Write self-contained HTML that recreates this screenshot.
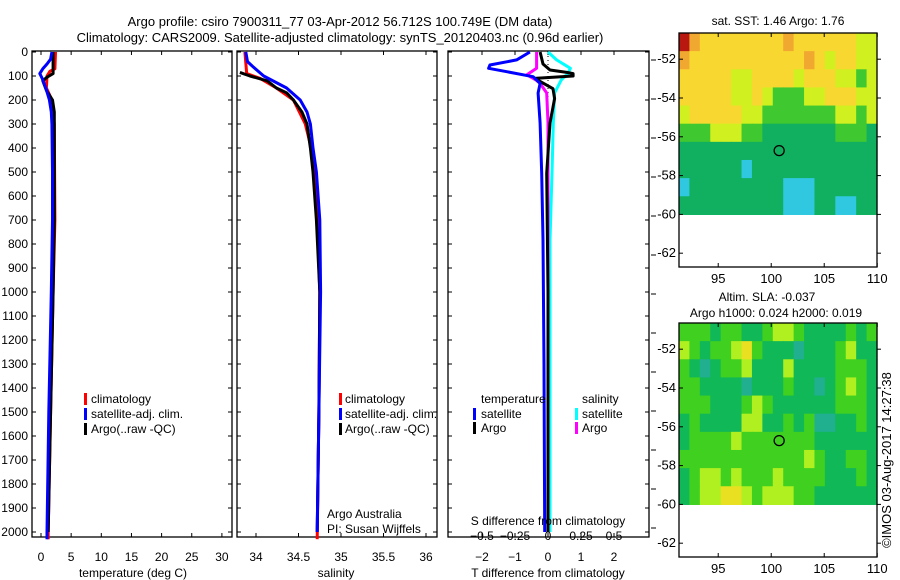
<!DOCTYPE html>
<html><head><meta charset="utf-8"><style>
html,body{margin:0;padding:0;background:#fff}
svg{display:block;font-family:"Liberation Sans",sans-serif}
</style></head><body>
<svg id="fig" width="900" height="580" viewBox="0 0 900 580" xmlns="http://www.w3.org/2000/svg">
<text x="340" y="26" font-size="13" text-anchor="middle">Argo profile: csiro 7900311_77 03-Apr-2012 56.712S 100.749E (DM data)</text>
<text x="340" y="42" font-size="13" text-anchor="middle">Climatology: CARS2009. Satellite-adjusted climatology: synTS_20120403.nc (0.96d earlier)</text>
<g id="g"></g>
</svg>
<script>
// ---- data ----
const depthTicks=[0,100,200,300,400,500,600,700,800,900,1000,1100,1200,1300,1400,1500,1600,1700,1800,1900,2000];
const tempTicks=[0,5,10,15,20,25,30];
const salTicks=[34,34.5,35,35.5,36];
const salTickLabels=["34","34.5","35","35.5","36"];
const dTTicks=[-2,-1,0,1,2];
const dTTickLabels=["\u22122","\u22121","0","1","2"];
const dSTicks=[-0.5,-0.25,0,0.25,0.5];
const dSTickLabels=["\u22120.5","\u22120.25","0","0.25","0.5"];
const tempClimD=[0,70,80,100,150,200,300,700,1000,1500,2000,2030];
const tempClim=[2.4,2.3,1.5,1.0,0.9,1.8,2.2,2.3,2.0,1.6,1.2,1.2];
const tempSatD=[0,30,50,70,90,110,150,200,250,300,500,700,1000,1500,2000,2030];
const tempSat=[1.8,1.6,1.0,0.3,-0.2,0.2,0.8,1.4,1.7,1.8,1.9,1.9,1.7,1.3,1.0,1.0];
const tempArgoD=[0,90,105,120,160,200,250,700,1000,1500,2000];
const tempArgo=[2.0,2.0,1.0,0.3,0.9,1.9,2.2,2.2,2.0,1.6,1.2];
const salClimD=[0,90,110,150,200,300,400,600,1000,1500,2030];
const salClim=[33.87,33.89,34.05,34.24,34.44,34.58,34.65,34.71,34.75,34.74,34.72];
const salSatD=[0,40,60,100,150,200,250,300,400,500,700,1000,1500,2000];
const salSat=[33.88,33.9,33.96,34.09,34.36,34.52,34.6,34.64,34.67,34.71,34.75,34.76,34.74,34.72];
const salArgoD=[85,100,120,150,170,200,250,300,400,500,700,1000,1500,2000];
const salArgo=[33.81,33.93,34.13,34.24,34.36,34.44,34.54,34.6,34.64,34.67,34.71,34.75,34.74,34.72];
const dTSatD=[0,33,54,68,82,103,131,171,296,505,783,1300,2000];
const dTSat=[-0.55,-0.95,-1.76,-1.8,-1.25,-0.45,-0.24,-0.3,-0.24,-0.19,-0.15,-0.12,-0.1];
const dTArgoD=[0,50,75,85,90,100,110,153,194,296,505,1000,2000];
const dTArgo=[-0.24,-0.15,0.06,0.57,0.76,0.76,-0.4,0.15,0.2,0.06,-0.04,0,0];
const dSSatD=[0,33,68,90,117,171,296,505,783,2000];
const dSSat=[0,0.065,0.17,0.15,0.1,0.05,0.04,0.03,0.015,0.015];
const dSArgoD=[0,68,95,117,131,171,296,1000,2000];
const dSArgo=[-0.086,-0.086,-0.16,-0.09,-0.06,-0.01,0,0,0];
const latTicks=[-52,-54,-56,-58,-60,-62];
const lonTicks=[95,100,105,110];
const sstGrid=[
[6,5,4,4,4,4,4,4,4,4,5,4,4,4,4,4,4,3,3],
[5,4,4,4,4,4,4,4,4,4,4,4,5,4,3,4,4,3,3],
[4,4,4,4,4,3,3,4,4,4,4,3,4,4,4,3,3,2,3],
[4,4,4,4,4,3,3,4,3,2,2,2,3,3,4,4,4,3,3],
[3,4,4,4,4,4,3,3,2,2,2,2,2,2,2,3,3,2,3],
[2,2,2,3,3,3,2,2,1,1,1,1,1,1,1,2,2,2,1],
[1,1,1,1,1,1,1,1,1,1,1,1,1,1,1,1,1,1,1],
[1,1,1,1,1,1,0,1,1,1,1,1,1,1,1,1,1,1,1],
[0,1,1,1,1,1,1,1,1,1,0,0,0,1,1,1,1,1,1],
[1,1,1,1,1,1,1,1,1,1,0,0,0,1,1,0,0,1,1]];
const slaGrid=[
[2,2,2,1,2,2,1,1,2,3,3,2,1,1,1,1,2,1,2],
[3,2,1,2,2,3,4,2,1,1,1,0,1,1,1,2,3,1,1],
[2,1,0,1,2,2,3,1,1,1,3,1,1,1,1,2,2,2,1],
[2,2,1,1,1,1,0,1,1,1,2,1,1,0,1,2,3,2,1],
[2,2,2,1,1,1,2,3,2,1,1,1,1,1,1,2,2,2,1],
[1,2,1,1,1,1,3,3,1,1,2,1,2,0,0,1,1,2,1],
[1,2,2,2,2,3,2,2,2,2,2,2,2,1,1,1,1,1,1],
[2,2,2,2,2,2,2,2,2,2,2,2,3,2,1,1,2,2,1],
[1,2,3,3,2,3,2,2,2,3,2,2,2,2,1,1,1,2,1],
[1,2,3,3,4,4,3,2,3,3,3,2,2,1,1,1,1,1,1]];
const sstColors=['#30c8e0','#10b060','#40c830','#d0f020','#f8d830','#f0a830','#b81810'];
const slaColors=['#20b090','#10b858','#40d020','#b0f020','#e8e020'];
const argoLon=100.749, argoLat=-56.712;

// ---- helpers ----
const NS='http://www.w3.org/2000/svg';
const root=document.getElementById('g');
function mk(tag,attrs,parent){const e=document.createElementNS(NS,tag);for(const k in attrs)e.setAttribute(k,attrs[k]);(parent||root).appendChild(e);return e;}
const yD=d=>52+d*0.24;
const xT=t=>41+t*6.03;
const xS=s=>256+(s-34)*85;
const xDT=v=>548+v*33;
const xDS=v=>548+v*132;
const FT=51, FB=537;

function frame(x0,x1,name){
  const r=mk('rect',{x:x0,y:FT,width:x1-x0,height:FB-FT,fill:'none',stroke:'#000','stroke-width':1.3});
  
  
}
function line(xs,ds,fx,color,name,w){
  const pts=xs.map((v,i)=>fx(v).toFixed(1)+','+yD(ds[i]).toFixed(1)).join(' ');
  const p=mk('polyline',{points:pts,fill:'none',stroke:color,'stroke-width':w||3,'stroke-linejoin':'round'});
  
  
}
function txt(x,y,s,anchor,name,size){
  const t=mk('text',{x:x,y:y,'font-size':size||12,'text-anchor':anchor||'start'});
  t.textContent=s;
  
  
  return t;
}
function xticks(ticks,labels,fx,y0,name){
  ticks.forEach((v,i)=>{
    const x=fx(v);
    mk('line',{x1:x,x2:x,y1:FT,y2:FT+4,stroke:'#000'});
    mk('line',{x1:x,x2:x,y1:FB,y2:FB-4,stroke:'#000'});
    txt(x,y0,labels[i],'middle',name);
  });
}
function legendMark(x,y,color,name){
  const r=mk('rect',{x:x,y:y-10,width:3,height:12,fill:color});
  
  
}

// ---- panels ----
frame(32,232,'temperature-panel-frame');
frame(237,437,'salinity-panel-frame');
frame(448,649,'difference-panel-frame');
depthTicks.forEach(d=>{
  const y=yD(d);
  txt(28,y+4,String(d),'end','depth-tick-label');
  [[32,36],[228,232],[237,241],[433,437],[448,452],[645,649]].forEach(a=>mk('line',{x1:a[0],x2:a[1],y1:y,y2:y,stroke:'#000'}));
});
for(let y=60;y<=560;y+=39){mk('line',{x1:651,x2:656,y1:y,y2:y,stroke:'#000'});}
xticks(tempTicks,tempTicks.map(String),xT,561,'temperature-tick-label');
xticks(salTicks,salTickLabels,xS,561,'salinity-tick-label');
xticks(dTTicks,dTTickLabels,xDT,561,'t-diff-tick-label');
txt(133,577,'temperature (deg C)','middle','temperature-axis-title');
txt(336,577,'salinity','middle','salinity-axis-title');
txt(548,577,'T difference from climatology','middle','t-diff-axis-title');

// zero dotted line
const z=mk('line',{x1:548,x2:548,y1:yD(0),y2:yD(2000),stroke:'#000','stroke-dasharray':'1,3'});



line(tempClim,tempClimD,xT,'#ff0000','temp-climatology-line');
line(tempArgo,tempArgoD,xT,'#000000','temp-argo-line');
line(tempSat,tempSatD,xT,'#0000ff','temp-satellite-line');
line(salClim,salClimD,xS,'#ff0000','salinity-climatology-line');
line(salArgo,salArgoD,xS,'#000000','salinity-argo-line');
line(salSat,salSatD,xS,'#0000ff','salinity-satellite-line');
line(dSSat,dSSatD,xDS,'#00ffff','s-diff-satellite-line');
line(dSArgo,dSArgoD,xDS,'#ff00ff','s-diff-argo-line');
line(dTArgo,dTArgoD,xDT,'#000000','t-diff-argo-line');
line(dTSat,dTSatD,xDT,'#0000ff','t-diff-satellite-line');

txt(548,525,'S difference from climatology','middle','s-diff-axis-title');
dSTicks.forEach((v,i)=>txt(xDS(v),540,dSTickLabels[i],'middle','s-diff-tick-label'));

// legends
[['#ff0000','climatology'],['#0000ff','satellite-adj. clim.'],['#000000','Argo(..raw -QC)']].forEach((e,i)=>{
  legendMark(84,403+i*15,e[0],'temp-legend-marker');
  txt(91,403+i*15,e[1],'start','temp-legend-entry');
  legendMark(339,403+i*15,e[0],'salinity-legend-marker');
  txt(345,403+i*15,e[1],'start','salinity-legend-entry');
});
txt(327,518,'Argo Australia','start','credit-line-1');
txt(327,533,'PI: Susan Wijffels','start','credit-line-2');
txt(481,403,'temperature','start','diff-legend-temperature-header');
legendMark(473,418,'#0000ff','diff-legend-marker');
txt(481,418,'satellite','start','diff-legend-temp-satellite');
legendMark(473,432,'#000000','diff-legend-marker');
txt(481,432,'Argo','start','diff-legend-temp-argo');
txt(582,403,'salinity','start','diff-legend-salinity-header');
legendMark(575,418,'#00ffff','diff-legend-marker');
txt(582,418,'satellite','start','diff-legend-sal-satellite');
legendMark(575,432,'#ff00ff','diff-legend-marker');
txt(582,432,'Argo','start','diff-legend-sal-argo');

// ---- maps ----
function map(top,grid,colors,name){
  const x0=679,x1=877,bot=top+234;
  const lonL=91.3,lonPx=10.6,latTop=-50.65,latPx=19.4;
  const fx=lon=>x0+(lon-lonL)*lonPx;
  const fy=lat=>top+(latTop-lat)*latPx;
  const rows=grid.length,cols=grid[0].length;
  const cw=(x1-x0)/cols, rh=(fy(-60)-top)/rows;
  grid.forEach((row,r)=>row.forEach((v,c)=>{
    const e=mk('rect',{x:(x0+c*cw).toFixed(2),y:(top+r*rh).toFixed(2),width:(cw+0.6).toFixed(2),height:(rh+0.6).toFixed(2),fill:colors[v]});
    
    
  }));
  const f=mk('rect',{x:x0,y:top,width:x1-x0,height:bot-top,fill:'none',stroke:'#000','stroke-width':1.3});
  
  
  latTicks.forEach(l=>{const y=fy(l);mk('line',{x1:x0,x2:x0+4,y1:y,y2:y,stroke:'#000'});mk('line',{x1:x1,x2:x1+4,y1:y,y2:y,stroke:'#000'});txt(676,y+4,String(l),'end',name+'-lat-label',13);});
  lonTicks.forEach(l=>{const x=fx(l);mk('line',{x1:x,x2:x,y1:bot,y2:bot-4,stroke:'#000'});mk('line',{x1:x,x2:x,y1:top,y2:top+4,stroke:'#000'});txt(x,bot+16,String(l),'middle',name+'-lon-label',13);});
  const c=mk('circle',{cx:fx(argoLon),cy:fy(argoLat),r:5,fill:'none',stroke:'#000','stroke-width':1.3});
  
  
}
map(33,sstGrid,sstColors,'sst-map');
map(323,slaGrid,slaColors,'sla-map');
txt(778,25,'sat. SST: 1.46 Argo: 1.76','middle','sst-map-title');
txt(767,301,'Altim. SLA: -0.037','middle','sla-map-title-1');
txt(776,317,'Argo h1000: 0.024 h2000: 0.019','middle','sla-map-title-2');
const cr=txt(0,0,'©IMOS 03-Aug-2017 14:27:38','middle','copyright-timestamp',13);
cr.setAttribute('transform','translate(891,460) rotate(-90)');
</script>
</body></html>
